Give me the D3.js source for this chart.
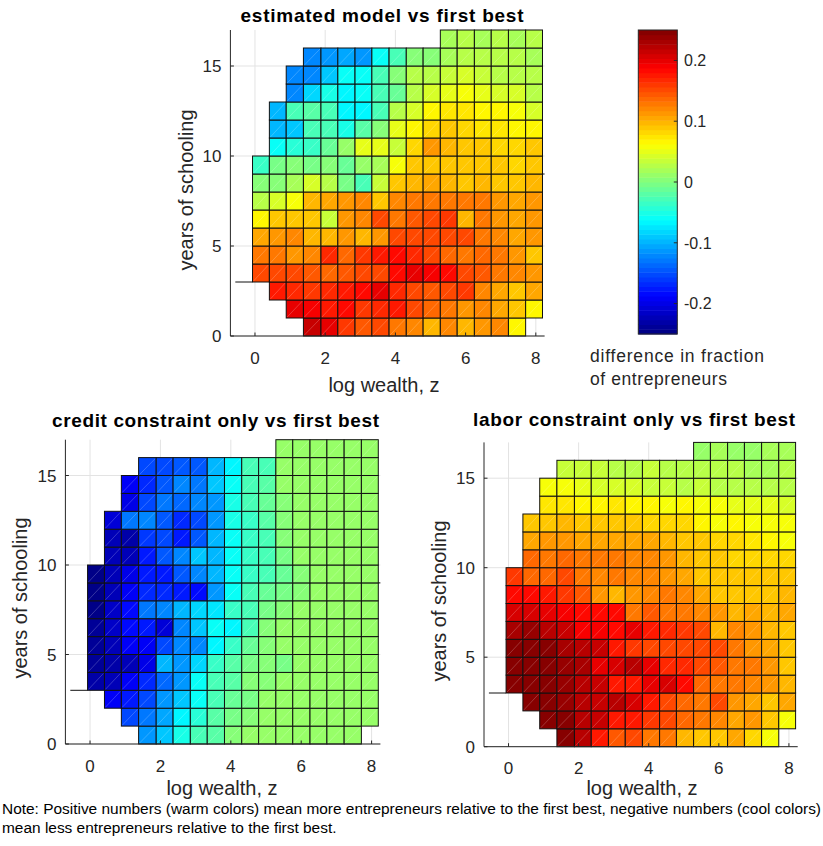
<!DOCTYPE html>
<html>
<head>
<meta charset="utf-8">
<script src="https://cdn.jsdelivr.net/npm/d3@7"></script>
<style>
  body { margin: 0; background: #fff; }
  text { font-family: "Liberation Sans", Arial, sans-serif; fill: #262626; }
</style>
</head>
<body>
<script>
// grid edges (log wealth and years of schooling)
const wealthEdges = [-0.07, 0.41, 0.89, 1.38, 1.88, 2.36, 2.85, 3.33, 3.82, 4.31, 4.79, 5.28, 5.76, 6.25, 6.73, 7.22, 7.71, 8.19]
const schoolEdges = [0, 1, 2, 3, 4, 5, 6, 7, 8, 9, 10, 11, 12, 13, 14, 15, 16, 17]

// first / last wealth cell used in each schooling row (row 0 = 0..1 years)
const rowFirst = [3, 2, 1, 0, 0, 0, 0, 0, 0, 0, 1, 1, 1, 2, 2, 3, 11]
const rowLast  = [15, 16, 16, 16, 16, 16, 16, 16, 16, 16, 16, 16, 16, 16, 16, 16, 16]

const xTicks = [0, 2, 4, 6, 8]
const yTicks = [0, 5, 10, 15]
const cbTicks = [-0.2, -0.1, 0, 0.1, 0.2]

// difference in fraction of entrepreneurs, row by row from the bottom
const estimated = [
  [0.212,0.2,0.162,0.144,0.15,0.131,0.118,0.1,0.118,0.1,0.112,0.118,0.068],
  [0.2,0.19,0.175,0.181,0.162,0.168,0.175,0.156,0.137,0.125,0.112,0.118,0.106,0.087,0.068],
  [0.175,0.168,0.162,0.168,0.175,0.181,0.2,0.168,0.15,0.144,0.15,0.162,0.118,0.106,0.093,0.106],
  [0.15,0.15,0.15,0.144,0.137,0.144,0.15,0.156,0.181,0.2,0.194,0.187,0.15,0.144,0.131,0.118,0.112],
  [0.131,0.125,0.112,0.118,0.168,0.137,0.162,0.175,0.181,0.168,0.156,0.137,0.131,0.137,0.125,0.112,0.087],
  [0.106,0.112,0.118,0.1,0.1,0.112,0.1,0.112,0.15,0.156,0.15,0.156,0.15,0.131,0.118,0.106,0.112],
  [0.068,0.093,0.093,0.087,0.037,0.112,0.118,0.15,0.125,0.144,0.15,0.162,0.1,0.125,0.112,0.106,0.112],
  [0.03,0.045,0.062,0.1,0.106,0.112,0.118,0.087,0.118,0.125,0.131,0.125,0.131,0.125,0.112,0.106,0.112],
  [0,0.006,0.019,0.045,0.03,-0.006,-0.025,0.037,0.093,0.1,0.106,0.1,0.093,0.1,0.093,0.093,0.1],
  [-0.037,-0.006,0,-0.006,0,-0.012,0.012,0.019,0.062,0.093,0.087,0.087,0.093,0.087,0.087,0.08,0.087],
  [-0.062,-0.045,-0.037,-0.012,0.012,0.05,0.05,0.037,0.08,0.112,0.1,0.087,0.087,0.08,0.08,0.087],
  [-0.1,-0.09,-0.03,-0.03,-0.05,-0.02,0,0.05,0.068,0.08,0.087,0.08,0.075,0.075,0.068,0.068],
  [-0.095,-0.025,-0.02,-0.025,-0.065,-0.07,-0.025,0.025,0.045,0.068,0.075,0.075,0.068,0.068,0.056,0.045],
  [-0.12,-0.08,-0.05,-0.065,-0.062,-0.03,-0.012,0.025,0.045,0.05,0.062,0.05,0.045,0.04,0.03],
  [-0.125,-0.12,-0.09,-0.06,-0.06,-0.025,0,0.03,0.03,0.035,0.045,0.035,0.03,0.03,0.025],
  [-0.125,-0.11,-0.105,-0.11,-0.06,-0.03,0.006,0,0.02,0.025,0.03,0.025,0.03,0.02],
  [0.02,0.025,0.02,0.03,0.02,0.025]
]

const creditOnly = [
  [-0.112,-0.087,-0.05,-0.031,-0.019,0,0.008,0.008,0.008,0.008,0.008,0.008,0.008],
  [-0.156,-0.131,-0.106,-0.065,-0.044,-0.019,-0.006,0,0.008,0.008,0.008,0.008,0.008,0.008,0.008],
  [-0.194,-0.175,-0.15,-0.112,-0.087,-0.062,-0.031,-0.012,-0.006,0.008,0.008,0.008,0.008,0.008,0.008,0.008],
  [-0.231,-0.219,-0.194,-0.168,-0.137,-0.112,-0.062,-0.025,-0.019,0,0,0.008,0.008,0.008,0.008,0.008,0.008],
  [-0.237,-0.231,-0.219,-0.2,-0.1,-0.112,-0.081,-0.037,-0.019,-0.006,0,-0.006,0.008,0.008,0.008,0.008,0.008],
  [-0.237,-0.219,-0.194,-0.194,-0.156,-0.125,-0.118,-0.065,-0.037,-0.012,0,0.008,0.008,0.008,0.008,0.008,0.008],
  [-0.237,-0.212,-0.187,-0.175,-0.206,-0.125,-0.087,-0.056,-0.065,-0.025,0,0.008,0.008,0.008,0.008,0.008,0.008],
  [-0.244,-0.212,-0.187,-0.131,-0.118,-0.1,-0.081,-0.075,-0.037,-0.025,-0.006,0.006,0.008,0.008,0.008,0.008,0.008],
  [-0.244,-0.219,-0.194,-0.168,-0.168,-0.175,-0.181,-0.112,-0.062,-0.031,-0.012,-0.006,0.006,0.008,0.008,0.008,0.008],
  [-0.244,-0.225,-0.2,-0.175,-0.175,-0.144,-0.125,-0.094,-0.062,-0.037,-0.025,-0.012,0,0.008,0.008,0.008,0.008],
  [-0.219,-0.225,-0.175,-0.144,-0.125,-0.087,-0.094,-0.056,-0.037,-0.025,-0.006,0.008,0.008,0.008,0.008,0.008],
  [-0.225,-0.231,-0.162,-0.15,-0.175,-0.144,-0.1,-0.056,-0.037,-0.025,0,0.008,0.008,0.008,0.008,0.008],
  [-0.206,-0.131,-0.125,-0.144,-0.168,-0.156,-0.112,-0.05,-0.037,-0.019,0.006,0.008,0.008,0.008,0.008,0.008],
  [-0.2,-0.15,-0.131,-0.137,-0.125,-0.112,-0.05,-0.031,-0.012,0,0.008,0.008,0.008,0.008,0.008],
  [-0.194,-0.168,-0.144,-0.125,-0.131,-0.087,-0.062,-0.031,-0.019,0.008,0.008,0.008,0.008,0.008,0.008],
  [-0.156,-0.15,-0.144,-0.144,-0.094,-0.068,-0.025,-0.031,0.008,0.008,0.008,0.008,0.008,0.008],
  [0.008,0.008,0.008,0.008,0.008,0.008]
]

const laborOnly = [
  [0.25,0.225,0.175,0.144,0.156,0.131,0.125,0.1,0.093,0.087,0.106,0.081,0.062],
  [0.25,0.244,0.225,0.212,0.175,0.175,0.162,0.15,0.137,0.131,0.118,0.106,0.112,0.087,0.062],
  [0.25,0.25,0.237,0.225,0.212,0.219,0.206,0.175,0.156,0.137,0.131,0.15,0.112,0.106,0.093,0.106],
  [0.244,0.244,0.244,0.237,0.225,0.212,0.175,0.175,0.2,0.206,0.187,0.137,0.131,0.125,0.118,0.112,0.1],
  [0.244,0.25,0.244,0.237,0.231,0.2,0.206,0.219,0.2,0.168,0.168,0.156,0.144,0.131,0.125,0.112,0.087],
  [0.25,0.244,0.25,0.231,0.219,0.212,0.175,0.162,0.156,0.156,0.156,0.15,0.156,0.125,0.112,0.106,0.093],
  [0.231,0.237,0.225,0.212,0.19,0.194,0.181,0.2,0.175,0.168,0.162,0.156,0.1,0.118,0.112,0.1,0.093],
  [0.206,0.206,0.2,0.194,0.181,0.187,0.181,0.131,0.144,0.131,0.131,0.118,0.112,0.1,0.106,0.1,0.106],
  [0.187,0.187,0.175,0.162,0.144,0.112,0.1,0.112,0.118,0.125,0.118,0.106,0.093,0.087,0.093,0.093,0.1],
  [0.162,0.137,0.137,0.15,0.125,0.118,0.125,0.118,0.118,0.112,0.106,0.087,0.087,0.087,0.087,0.087,0.087],
  [0.137,0.131,0.137,0.125,0.125,0.125,0.118,0.118,0.112,0.1,0.093,0.087,0.081,0.081,0.081,0.081],
  [0.106,0.112,0.112,0.106,0.106,0.106,0.106,0.106,0.1,0.093,0.087,0.081,0.081,0.075,0.068,0.062],
  [0.093,0.093,0.1,0.093,0.087,0.087,0.087,0.081,0.081,0.081,0.068,0.062,0.068,0.062,0.062,0.056],
  [0.075,0.075,0.068,0.068,0.075,0.068,0.068,0.062,0.068,0.056,0.056,0.05,0.05,0.05,0.044],
  [0.056,0.056,0.05,0.044,0.044,0.044,0.037,0.037,0.031,0.037,0.031,0.025,0.025,0.031,0.025],
  [0.037,0.037,0.037,0.031,0.031,0.037,0.031,0.031,0.025,0.031,0.025,0.019,0.019,0.025],
  [0.012,0.019,0.012,0.012,0.019,0.019]
]

// stray outline pieces MATLAB left at 3 and 9 years
const stubs = [
  { yr: 3, from: -0.56, to: -0.07 },
  { yr: 9, from: 8.19, to: 8.25 }
]

const W = 823, H = 846
const svg = d3.select('body').append('svg').attr('width', W).attr('height', H)

// MATLAB jet(64)
const jet = v => {
  let t = (v + 0.25) / 0.5
  let i = Math.max(0, Math.min(63, Math.floor(t * 64)))
  t = (i + 0.5) / 64
  const c = k => Math.round(255 * Math.max(0, Math.min(1, 1.5 - Math.abs(4 * t - k))))
  return `rgb(${c(3)},${c(2)},${c(1)})`
}

const panels = [
  { data: estimated, x0: 230.4, x1: 544.6, y0: 336, y1: 30,
    title: 'estimated model vs first best', tx: 382, ty: 21.5, tl: 283,
    xl: 384, xly: 392, yl: 192.7, yly: 190, tickY: 28 },
  { data: creditOnly, x0: 65.4, x1: 380.4, y0: 744, y1: 439.7,
    title: 'credit constraint only vs first best', tx: 215.5, ty: 426.5, tl: 327,
    xl: 222, xly: 794.5, yl: 26.7, yly: 598, tickY: 28 },
  { data: laborOnly, x0: 484, x1: 797.7, y0: 746.7, y1: 442.4,
    title: 'labor constraint only vs first best', tx: 634, ty: 425.5, tl: 322,
    xl: 642, xly: 795, yl: 445.5, yly: 601, tickY: 27 }
]

panels.forEach(p => {
  const x = d3.scaleLinear().domain([-0.7, 8.25]).range([p.x0, p.x1])
  const y = d3.scaleLinear().domain([0, 17]).range([p.y0, p.y1])
  const g = svg.append('g')

  // grid
  g.selectAll('.gx').data(xTicks).enter().append('line')
    .attr('x1', d => x(d)).attr('x2', d => x(d))
    .attr('y1', p.y0).attr('y2', p.y1)
    .attr('stroke', '#e3e3e3').attr('stroke-width', 1)
  g.selectAll('.gy').data(yTicks).enter().append('line')
    .attr('y1', d => y(d)).attr('y2', d => y(d))
    .attr('x1', p.x0).attr('x2', p.x1)
    .attr('stroke', '#e3e3e3').attr('stroke-width', 1)

  // cells
  const cells = []
  p.data.forEach((row, r) => {
    row.forEach((v, k) => cells.push({ r, c: rowFirst[r] + k, v }))
  })
  const cg = g.selectAll('.cell').data(cells).enter().append('g')
  cg.append('rect')
    .attr('x', d => x(wealthEdges[d.c]))
    .attr('y', d => y(schoolEdges[d.r + 1]))
    .attr('width', d => x(wealthEdges[d.c + 1]) - x(wealthEdges[d.c]))
    .attr('height', d => y(schoolEdges[d.r]) - y(schoolEdges[d.r + 1]))
    .attr('fill', d => jet(d.v))
    .attr('stroke', '#111').attr('stroke-width', 1)
  cg.append('line')
    .attr('x1', d => x(wealthEdges[d.c]) + 1).attr('y1', d => y(schoolEdges[d.r]) - 1)
    .attr('x2', d => x(wealthEdges[d.c + 1]) - 1).attr('y2', d => y(schoolEdges[d.r + 1]) + 1)
    .attr('stroke', '#fff').attr('stroke-opacity', 0.35).attr('stroke-width', 0.6)

  g.selectAll('.stub').data(stubs).enter().append('line')
    .attr('x1', d => x(d.from)).attr('x2', d => x(d.to))
    .attr('y1', d => y(d.yr)).attr('y2', d => y(d.yr))
    .attr('stroke', '#111').attr('stroke-width', 1)

  // axes lines and inward ticks
  g.append('line').attr('x1', p.x0).attr('x2', p.x0).attr('y1', p.y0).attr('y2', p.y1)
    .attr('stroke', '#262626')
  g.append('line').attr('x1', p.x0).attr('x2', p.x1).attr('y1', p.y0).attr('y2', p.y0)
    .attr('stroke', '#262626')
  g.selectAll('.tx').data(xTicks).enter().append('line')
    .attr('x1', d => x(d)).attr('x2', d => x(d)).attr('y1', p.y0).attr('y2', p.y0 - 3.5)
    .attr('stroke', '#262626')
  g.selectAll('.ty').data(yTicks).enter().append('line')
    .attr('y1', d => y(d)).attr('y2', d => y(d)).attr('x1', p.x0).attr('x2', p.x0 + 3.5)
    .attr('stroke', '#262626')

  g.selectAll('.xl').data(xTicks).enter().append('text')
    .attr('x', d => x(d)).attr('y', p.y0 + p.tickY)
    .attr('text-anchor', 'middle').attr('font-size', 17).text(d => d)
  g.selectAll('.yl').data(yTicks).enter().append('text')
    .attr('x', p.x0 - 9).attr('y', d => y(d)).attr('dy', '0.36em')
    .attr('text-anchor', 'end').attr('font-size', 17).text(d => d)

  g.append('text').attr('x', p.tx).attr('y', p.ty).attr('text-anchor', 'middle')
    .attr('font-size', 19).attr('font-weight', 'bold').style('fill', '#000')
    .attr('textLength', p.tl).attr('lengthAdjust', 'spacing').text(p.title)
  g.append('text').attr('x', p.xl).attr('y', p.xly).attr('text-anchor', 'middle')
    .attr('font-size', 20).text('log wealth, z')
  g.append('text').attr('transform', `translate(${p.yl},${p.yly}) rotate(-90)`)
    .attr('text-anchor', 'middle').attr('font-size', 20).text('years of schooling')
})

// colour bar
const cb = d3.scaleLinear().domain([-0.25, 0.25]).range([334, 30])
const cbSteps = d3.range(64).map(i => -0.25 + (i + 0.5) * 0.5 / 64)
svg.selectAll('.cb').data(cbSteps).enter().append('rect')
  .attr('x', 638.3).attr('width', 39)
  .attr('y', d => cb(d + 0.25 / 64)).attr('height', cb(0) - cb(0.5 / 64) + 0.5)
  .attr('fill', d => jet(d))
svg.append('rect').attr('x', 638.3).attr('y', 30).attr('width', 39).attr('height', 304)
  .attr('fill', 'none').attr('stroke', '#262626')
svg.selectAll('.cbt').data(cbTicks).enter().append('line')
  .attr('x1', 677.3).attr('x2', 673.8).attr('y1', d => cb(d)).attr('y2', d => cb(d))
  .attr('stroke', '#262626')
svg.selectAll('.cbl').data(cbTicks).enter().append('text')
  .attr('x', 684).attr('y', d => cb(d)).attr('dy', '0.36em')
  .attr('font-size', 16).text(d => d3.format('.1f')(d).replace('0.0', '0').replace('−', '-'))
svg.append('text').attr('x', 590).attr('y', 361.5).attr('font-size', 17.5)
  .attr('textLength', 174).attr('lengthAdjust', 'spacing').text('difference in fraction')
svg.append('text').attr('x', 590).attr('y', 385).attr('font-size', 17.5)
  .attr('textLength', 137).attr('lengthAdjust', 'spacing').text('of entrepreneurs')

// note, set in a narrow face: both lines share one horizontal squeeze
const note1 = svg.append('text').attr('x', 2).attr('y', 814).attr('font-size', 14).style('fill', '#000')
  .text('Note: Positive numbers (warm colors) mean more entrepreneurs relative to the first best, negative numbers (cool colors)')
const note2 = svg.append('text').attr('x', 2).attr('y', 833).attr('font-size', 14).style('fill', '#000')
  .text('mean less entrepreneurs relative to the first best.')
const squeeze = 819 / note1.node().getComputedTextLength()
note1.attr('textLength', 819).attr('lengthAdjust', 'spacingAndGlyphs')
note2.attr('textLength', note2.node().getComputedTextLength() * squeeze).attr('lengthAdjust', 'spacingAndGlyphs')
</script>
</body>
</html>
